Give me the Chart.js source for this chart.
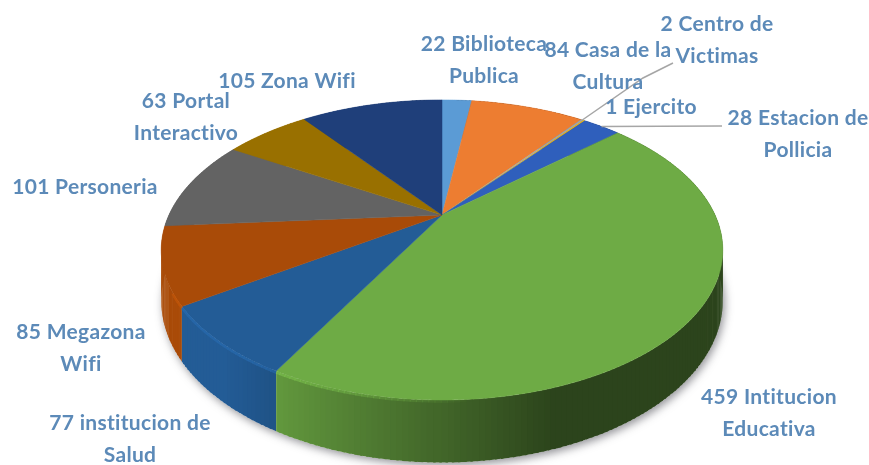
<!DOCTYPE html>
<html>
<head>
<meta charset="utf-8">
<title>Puntos por tipo</title>
<script src="https://cdn.jsdelivr.net/npm/chart.js@4"></script>
<style>
  html, body { margin: 0; background: #fff; }
  #pieChart { display: block; filter: blur(0.6px); }
</style>
</head>
<body>
<canvas id="pieChart" width="869" height="465"></canvas>
<script>
// Datos
const categories = ['Biblioteca\nPublica', 'Casa de la\nCultura', 'Centro de\nVictimas', 'Ejercito',
    'Estacion de\nPollicia', 'Intitucion\nEducativa', 'institucion de\nSalud', 'Megazona\nWifi',
    'Personeria', 'Portal\nInteractivo', 'Zona Wifi'];
const values = [22, 84, 2, 1, 28, 459, 77, 85, 101, 63, 105];
const sliceColors = ['#5B9BD5', '#ED7D31', '#A5A5A5', '#FFC000', '#2F5FBC', '#6EAB45',
    '#235C96', '#A94B08', '#636363', '#997000', '#1F3F7A'];

// Posicion del centro de cada etiqueta (primera linea)
const labelX = [484, 608, 717, 651, 798, 769, 130, 81, 85, 186, 287];
const labelY = [44, 50, 24, 107, 118, 397, 423, 332, 187, 101, 81];
const lineGap = 32;

// Lineas guia: indice de la rebanada y puntos de quiebre
const leaders = [
    { slice: 2, points: [[643, 78], [673, 63]] },
    { slice: 4, points: [[722, 126]] }
];

// Proporciones de la perspectiva
const scaleX = 1.27, scaleY = 0.66, depth = 0.223, tilt = 0.233;

function project(arc, angle, drop) {
    const u = Math.cos(angle), v = Math.sin(angle);
    const w = 1 - tilt * v;
    const r = arc.outerRadius;
    return {
        x: arc.x + r * scaleX * u / w,
        y: arc.y + r * scaleY * v / w + (drop ? r * depth / w : 0)
    };
}

function shade(hex, f) {
    const n = parseInt(hex.slice(1), 16);
    const c = [n >> 16, (n >> 8) & 255, n & 255].map(x => Math.min(255, Math.round(x * f)));
    return `rgb(${c[0]},${c[1]},${c[2]})`;
}

const pie3d = {
    id: 'pie3d',
    beforeDatasetsDraw(chart) {
        const ctx = chart.ctx;
        const arcs = chart.getDatasetMeta(0).data;
        const step = Math.PI / 180;

        // Sombra bajo el disco
        ctx.save();
        ctx.shadowColor = 'rgba(60,60,70,0.55)';
        ctx.shadowBlur = 9;
        ctx.shadowOffsetX = 2;
        ctx.shadowOffsetY = 3;
        ctx.fillStyle = '#fff';
        ctx.beginPath();
        for (let a = 0; a < Math.PI * 2; a += step) {
            const p = project(arcs[0], a, true);
            ctx.lineTo(p.x, p.y);
        }
        ctx.closePath();
        ctx.fill();
        ctx.restore();

        // Borde lateral, de atras hacia adelante
        const strips = [];
        arcs.forEach(arc => {
            for (let a = arc.startAngle; a < arc.endAngle; a += step) {
                strips.push({ arc, a, b: Math.min(a + step * 1.4, arc.endAngle) });
            }
        });
        strips.sort((p, q) => Math.sin(p.a) - Math.sin(q.a));
        strips.forEach(s => {
            const p1 = project(s.arc, s.a, false), p2 = project(s.arc, s.b, false);
            const p3 = project(s.arc, s.b, true), p4 = project(s.arc, s.a, true);
            const f = Math.max(0.4, Math.min(1, 0.6 - 0.62 * Math.cos(s.a)));
            ctx.fillStyle = shade(s.arc.options.backgroundColor, f);
            ctx.beginPath();
            ctx.moveTo(p1.x, p1.y);
            ctx.lineTo(p2.x, p2.y);
            ctx.lineTo(p3.x, p3.y);
            ctx.lineTo(p4.x, p4.y);
            ctx.closePath();
            ctx.fill();
        });

        // Cara superior
        arcs.forEach(arc => {
            ctx.fillStyle = arc.options.backgroundColor;
            ctx.strokeStyle = arc.options.backgroundColor;
            ctx.lineWidth = 0.5;
            ctx.beginPath();
            ctx.moveTo(arc.x, arc.y);
            for (let a = arc.startAngle; a < arc.endAngle; a += step / 2) {
                const p = project(arc, a, false);
                ctx.lineTo(p.x, p.y);
            }
            const e = project(arc, arc.endAngle, false);
            ctx.lineTo(e.x, e.y);
            ctx.closePath();
            ctx.fill();
            ctx.stroke();
        });

        // Brillo del canto en el frente izquierdo
        arcs.forEach(arc => {
            for (let a = arc.startAngle; a < arc.endAngle; a += step) {
                const u = Math.cos(a);
                if (Math.sin(a) < 0.5 || u > 0.1) continue;
                const p = project(arc, a, false), q = project(arc, Math.min(a + step * 1.2, arc.endAngle), false);
                ctx.strokeStyle = shade(arc.options.backgroundColor, 1.15);
                ctx.globalAlpha = Math.min(0.7, 0.1 - u);
                ctx.lineWidth = 2.5;
                ctx.beginPath();
                ctx.moveTo(p.x, p.y + 1.5);
                ctx.lineTo(q.x, q.y + 1.5);
                ctx.stroke();
            }
        });
        ctx.globalAlpha = 1;
        return false; // el disco ya esta pintado, no dibujar los arcos planos
    },
    // afterDatasetsDraw no corre si beforeDatasetsDraw devuelve false
    afterDraw(chart) {
        const ctx = chart.ctx;
        const arcs = chart.getDatasetMeta(0).data;

        ctx.save();
        ctx.strokeStyle = '#a6a6a6';
        ctx.lineWidth = 1.5;
        leaders.forEach(l => {
            const arc = arcs[l.slice];
            const p = project(arc, (arc.startAngle + arc.endAngle) / 2, false);
            ctx.beginPath();
            ctx.moveTo(p.x, p.y);
            l.points.forEach(q => ctx.lineTo(q[0], q[1]));
            ctx.stroke();
        });

        ctx.font = 'bold 21px Lato, "Open Sans", sans-serif';
        ctx.letterSpacing = '0.3px';
        ctx.fillStyle = '#5c8ab8';
        ctx.textAlign = 'center';
        ctx.textBaseline = 'middle';
        categories.forEach((name, i) => {
            const lines = `${values[i]} ${name}`.split('\n');
            lines.forEach((line, j) => ctx.fillText(line, labelX[i], labelY[i] + j * lineGap));
        });
        ctx.restore();
    }
};

const chart = new Chart(document.getElementById('pieChart').getContext('2d'), {
    type: 'pie',
    data: {
        labels: categories,
        datasets: [{ data: values, backgroundColor: sliceColors, borderWidth: 0 }]
    },
    options: {
        responsive: false,
        animation: false,
        layout: { padding: { left: 15, bottom: 35 } },
        plugins: { legend: { display: false }, tooltip: { enabled: false } }
    },
    plugins: [pie3d]
});
</script>
</body>
</html>
